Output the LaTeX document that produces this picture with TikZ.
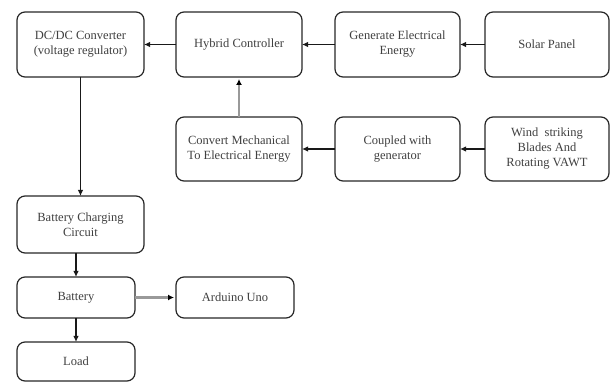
\documentclass[tikz,border=0pt]{standalone}
\usepackage{fontspec}
\setmainfont{Liberation Serif}
\usetikzlibrary{arrows.meta}
\begin{document}
\begin{tikzpicture}[x=1pt,y=-1pt,
  box/.style={draw=black!85, line width=1.2pt, rounded corners=8pt, inner sep=0pt, outer sep=0pt,
    align=center, text=black!75, font=\fontsize{12.5}{15}\selectfont},
  arr/.style={draw=black!90, line width=1.2pt, -{Latex[length=6pt,width=5.5pt]}},
  garr/.style={draw=black!40, line width=2.6pt, -{Latex[length=6pt,width=6pt,color=black]}, shorten >=2pt}]
\useasboundingbox (0,0) rectangle (611,382);
\node[box, minimum width=127pt, minimum height=65pt] (dcdc) at (80.5,44.5) {DC/DC Converter\\(voltage regulator)};
\node[box, minimum width=126pt, minimum height=65pt] (hybrid) at (239,44.5) {Hybrid Controller};
\node[box, minimum width=125pt, minimum height=65pt] (gen) at (397.5,44.5) {Generate Electrical\\Energy};
\node[box, minimum width=124pt, minimum height=65pt] (solar) at (547,44.5) {Solar Panel};
\node[box, minimum width=126pt, minimum height=64pt] (conv) at (239,149) {Convert Mechanical\\To Electrical Energy};
\node[box, minimum width=125pt, minimum height=64pt] (coupled) at (397.5,149) {Coupled with\\generator};
\node[box, minimum width=124pt, minimum height=64pt] (wind) at (547,149) {Wind\ \ striking\\Blades And\\Rotating VAWT};
\node[box, minimum width=127pt, minimum height=57pt] (charging) at (80.5,224.5) {Battery Charging\\Circuit};
\node[box, minimum width=118pt, minimum height=41pt] (battery) at (76,297.5) {Battery};
\node[box, minimum width=118pt, minimum height=41pt] (arduino) at (235,297.5) {Arduino Uno};
\node[box, minimum width=118pt, minimum height=39pt] (load) at (76,361.5) {Load};
\draw[arr] (solar) -- (gen);
\draw[arr] (gen) -- (hybrid);
\draw[arr] (hybrid) -- (dcdc);
\draw[arr] (wind) -- (coupled);
\draw[arr] (coupled) -- (conv);
\draw[garr] (conv) -- (hybrid);
\draw[arr] (dcdc) -- (charging);
\draw[arr] (battery.north |- charging.south) -- (battery.north);
\draw[garr] (battery) -- (arduino);
\draw[arr] (battery) -- (load);
\end{tikzpicture}
\end{document}
